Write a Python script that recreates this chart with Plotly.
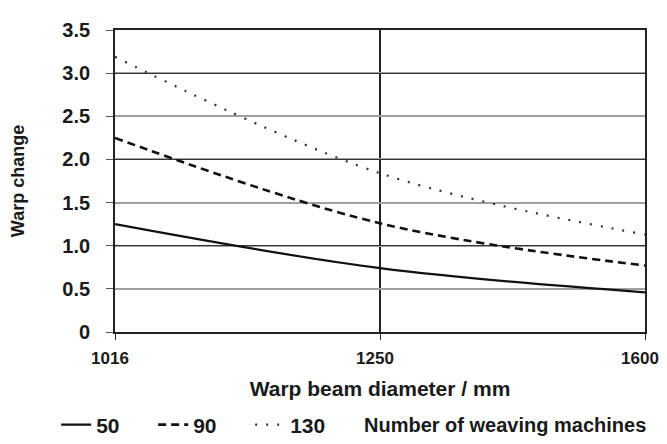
import plotly.graph_objects as go

diameters = ["1016", "1250", "1600"]
machines_50 = [1.25, 0.74, 0.46]
machines_90 = [2.25, 1.26, 0.77]
machines_130 = [3.19, 1.84, 1.13]
y_ticks = [0, 0.5, 1.0, 1.5, 2.0, 2.5, 3.0, 3.5]
y_tick_labels = ["0", "0.5", "1.0", "1.5", "2.0", "2.5", "3.0", "3.5"]

FONT = "Liberation Sans, Arial, sans-serif"

fig = go.Figure()
fig.add_trace(go.Scatter(x=diameters, y=machines_50, name="50", mode="lines",
                         line=dict(color="#111", width=2.2, shape="spline")))
fig.add_trace(go.Scatter(x=diameters, y=machines_90, name="90", mode="lines",
                         line=dict(color="#111", width=2.6, dash="8px,5px", shape="spline")))
fig.add_trace(go.Scatter(x=diameters, y=machines_130, name="130", mode="lines",
                         line=dict(color="#333", width=2.2, dash="2px,9px", shape="spline")))
# overlay axis for darker whole-number grid lines
fig.add_trace(go.Scatter(x=diameters, y=[None, None, None], yaxis="y2",
                         showlegend=False, hoverinfo="skip"))

fig.update_layout(
    width=659, height=428,
    margin=dict(l=107, r=22, t=22, b=104, autoexpand=False),
    paper_bgcolor="white", plot_bgcolor="white",
    font=dict(family=FONT, size=18, color="#1a1a1a"),
    xaxis=dict(type="category", range=[0, 2], showgrid=True, gridcolor="#222",
               gridwidth=1.8, showline=True, linecolor="#222", linewidth=1.8,
               mirror=True, ticks="outside", ticklen=6, tickcolor="#222",
               ticklabelstandoff=4, ticklabelshift=-5, automargin=False,
               tickfont=dict(family=FONT, size=17, weight="bold"),
               title=dict(text="Warp beam diameter / mm", standoff=14,
                          font=dict(family=FONT, size=21, weight="bold")),
               zeroline=False),
    yaxis=dict(range=[0, 3.5], tickvals=y_ticks, ticktext=y_tick_labels,
               showgrid=True, gridcolor="#a0a0a0", gridwidth=2,
               showline=True, linecolor="#222", linewidth=1.8, mirror=True,
               ticks="outside", ticklen=7, tickcolor="#555",
               ticklabelstandoff=12, automargin=False,
               tickfont=dict(family=FONT, size=20, weight="bold"),
               title=dict(text="Warp change", standoff=36,
                          font=dict(family=FONT, size=18, weight="bold")),
               zeroline=False),
    yaxis2=dict(range=[0, 3.5], overlaying="y", dtick=1, showgrid=True,
                gridcolor="#333", gridwidth=1.4, showticklabels=False,
                zeroline=False, showline=False, automargin=False),
    legend=dict(orientation="h", x=-0.111, xanchor="left", y=-0.308, yanchor="middle",
                font=dict(family=FONT, size=21, weight="bold"),
                itemwidth=30, entrywidth=52, tracegroupgap=0, bgcolor="rgba(0,0,0,0)"),
    annotations=[dict(text="Number of weaving machines", xref="paper", yref="paper",
                      x=0.466, y=-0.308, xanchor="left", yanchor="middle",
                      showarrow=False, font=dict(family=FONT, size=20, weight="bold"))],
    showlegend=True,
)

fig.write_html("out.html")
